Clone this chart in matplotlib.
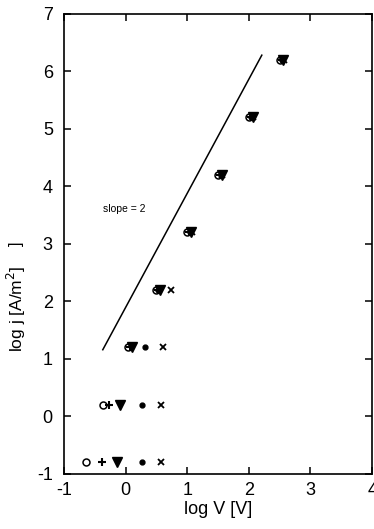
import numpy as np
import matplotlib.pyplot as plt

plt.rcParams['font.family'] = ['Liberation Sans', 'DejaVu Sans']
plt.rcParams['axes.unicode_minus'] = False

# measured points, log j vs log V
rows_y = [-0.8, 0.2, 1.2, 2.2, 3.2, 4.2, 5.2, 6.2]

circle_x = [-0.65, -0.37, 0.04, 0.50, 1.00, 1.50, 2.00, 2.50]
plus_x = [-0.39, -0.27, 0.07, 0.53, 1.03, 1.53, 2.03, 2.53]
tri_x = [-0.14, -0.09, 0.11, 0.56, 1.06, 1.56, 2.06, 2.56]

dot_x = [0.26, 0.27, 0.32, 0.53, 1.04, 1.54, 2.04, 2.54]
dot_y = rows_y
cross_x = [0.58, 0.58, 0.60, 0.73, 1.07, 1.57, 2.07, 2.57]
cross_y = rows_y

# slope = 2 guide line
line_x = [-0.37, 2.21]
line_y = [1.16, 6.28]

fig = plt.figure(figsize=(3.74, 5.29), dpi=100)
ax = fig.add_axes([0.171, 0.104, 0.824, 0.870])

ax.plot(line_x, line_y, color='black', lw=1.1)

ax.plot(circle_x, rows_y, 'o', ms=5, mfc='white', mec='black', mew=1.1, ls='none')
ax.plot(plus_x, rows_y, '+', ms=6, color='black', mew=1.5, ls='none')
ax.plot(dot_x, dot_y, 'o', ms=3.5, color='black', ls='none')
ax.plot(cross_x, cross_y, 'x', ms=5, color='black', mew=1.3, ls='none')
ax.plot(tri_x, rows_y, 'v', ms=6.5, color='black', ls='none')

ax.text(-0.37, 3.6, 'slope = 2', fontsize=7.5, va='center')

ax.set_xlim(-1, 4)
ax.set_ylim(-1, 7)
ax.set_xticks(range(-1, 5))
ax.set_yticks(range(-1, 8))
ax.tick_params(direction='in', top=True, right=True, length=5, width=1.1,
               labelsize=13)
ax.tick_params(axis='x', pad=6)
ax.tick_params(axis='y', pad=8)
for s in ax.spines.values():
    s.set_linewidth(1.2)

ax.set_xlabel('log V [V]', fontsize=13, labelpad=1)
fig.text(0.045, 0.416, 'log j [A/m$^2$]', fontsize=12.5, rotation=90,
         va='center', ha='center')
fig.text(0.045, 0.54, ']', fontsize=12, rotation=90, va='center', ha='center')

fig.savefig('out.png', dpi=100)
